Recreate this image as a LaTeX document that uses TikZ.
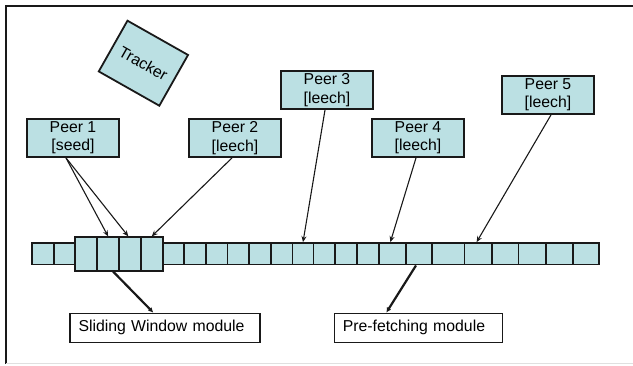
\documentclass[tikz,border=0pt]{standalone}
\usepackage{fontspec}
\setmainfont{Liberation Sans}
\usetikzlibrary{arrows.meta,calc}
\definecolor{cellfill}{RGB}{187,224,227}
\definecolor{edge}{RGB}{25,25,25}
\begin{document}
\begin{tikzpicture}[x=1pt,y=-1pt,
  every node/.style={font=\fontsize{15.8}{18.3}\selectfont},
  shadedbox/.style={draw=edge, line width=1.8pt, fill=cellfill, inner sep=0pt, align=center},
  peerbox/.style={shadedbox, minimum width=92pt, minimum height=38pt, execute at begin node={\rule{0pt}{17.3pt}}},
  cellbox/.style={shadedbox, minimum height=21.5pt},
  bigcell/.style={shadedbox, minimum height=33.4pt},
  modbox/.style={draw=edge, line width=1.3pt, fill=white, minimum height=29pt, inner ysep=0pt, inner xsep=8.5pt, align=left},
  thinarr/.style={draw=edge, line width=1.1pt, -{Stealth[length=6pt,width=5pt]}},
  thickarr/.style={draw=edge, line width=2.2pt, -{Latex[length=5pt,width=5pt]}}
]
\useasboundingbox (0,0) rectangle (633,366);
% frame
\draw[line width=1.5pt, edge] (633,6) -- (6,6) -- (6,364);
\draw[line width=1pt, black!12] (6,364) -- (633,364);

% tracker
\node[shadedbox, rotate=-29.5, minimum width=69.6pt, minimum height=58.3pt] (tr) at (143.4,63.2) {Tracker};

% peers
\node[peerbox] (p1) at (73,138) {Peer 1\\{[seed]}};
\node[peerbox] (p2) at (235,138) {Peer 2\\{[leech]}};
\node[peerbox] (p3) at (327,90) {Peer 3\\{[leech]}};
\node[peerbox] (p4) at (418,138) {Peer 4\\{[leech]}};
\node[peerbox] (p5) at (548,95) {Peer 5\\{[leech]}};

% strip of small cells
\foreach \a/\b [count=\i] in {32.3/54, 54/75, 162.7/184, 184/205.7, 205.7/227.5, 227.5/249, 249/270.7, 270.7/292.5, 292.5/313.5, 313.5/335, 335/357, 357/379, 379/405.7, 405.7/432.3, 432.3/464.5, 464.5/491.7, 491.7/518.5, 518.5/546, 546/572.7, 572.7/599.3}
  \node[cellbox, minimum width={\b pt-\a pt}] (c\i) at ({(\a+\b)/2},253.8) {};

% sliding window cells
\foreach \a/\b [count=\i] in {75/97.3, 97.3/119, 119/140.7, 140.7/162.7}
  \node[bigcell, minimum width={\b pt-\a pt}] (w\i) at ({(\a+\b)/2},254) {};

% modules
\node[modbox, text width=173pt] (sw) at (165,327.8) {Sliding Window module};
\node[modbox, text width=151pt] (pf) at (418.3,327.8) {Pre-fetching module};

% peer arrows
\draw[thinarr] ([xshift=-7pt]p1.south) -- (w2.north);
\draw[thinarr] ([xshift=-7pt]p1.south) -- ([xshift=-1.5pt]w3.north);
\draw[thinarr] ([xshift=-3pt]p2.south) -- (w4.north);
\draw[thinarr] ([xshift=-2pt]p3.south) -- (c9.north);
\draw[thinarr] ([xshift=-2pt]p4.south) -- ([xshift=-2pt]c13.north);
\draw[thinarr] ([xshift=3pt]p5.south) -- ([xshift=-1.5pt]c16.north);

% module arrows
\draw[thickarr] ([xshift=5pt]w2.south) -- ([xshift=84pt]sw.north west);
\draw[thickarr] ([xshift=-3pt]c14.south) -- ([xshift=-32pt]pf.north);
\end{tikzpicture}
\end{document}
